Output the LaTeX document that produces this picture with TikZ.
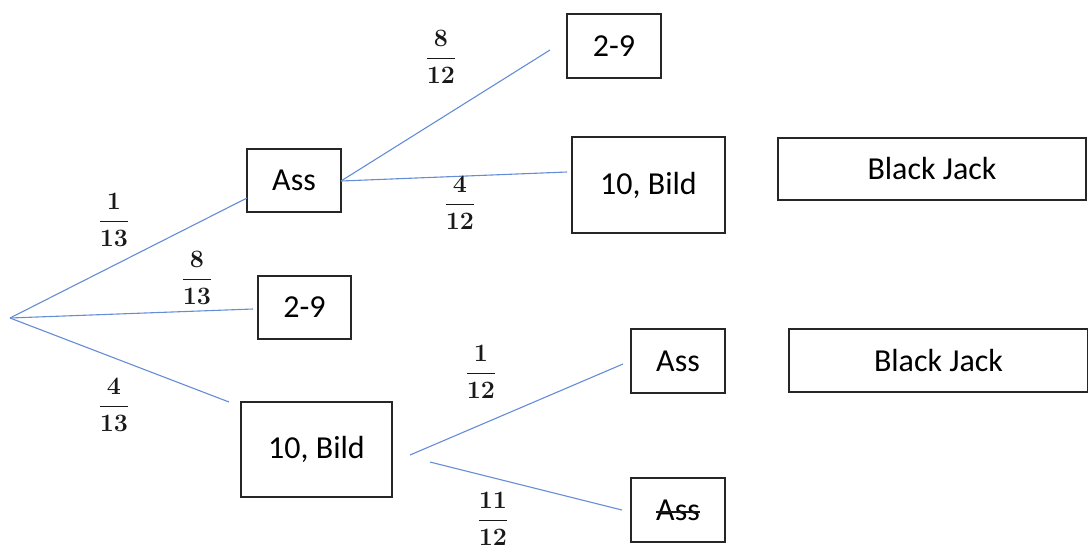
\RequirePackage{fix-cm}
\documentclass[tikz,border=0pt]{standalone}
\usepackage{fontspec}
\setmainfont{Carlito}
\tikzset{
  x=1pt,y=-1pt,
  box/.style={draw=black!85,line width=1.1pt,inner sep=0pt,font=\fontsize{32}{38}\selectfont},
  boxtext/.style={inner sep=0pt,font=\fontsize{32}{38}\selectfont},
  branch/.style={draw={rgb,255:red,100;green,140;blue,215},line width=1.1pt},
  strike/.style={draw=black!90,line width=1.4pt},
  frac/.style={font=\fontsize{25}{30}\selectfont\boldmath,inner sep=0pt,text=black!90}
}
\newcommand{\myfrac}[2]{$\displaystyle\frac{#1}{#2}$}
\begin{document}
\begin{tikzpicture}
\useasboundingbox (0,0) rectangle (1088,552);
% nodes
\node[box,minimum width=94pt,minimum height=63pt] (ass1) at (294,180.5) {Ass};
\node[box,minimum width=94pt,minimum height=64pt] (n29a) at (614,46) {2-9};
\node[box,minimum width=153pt,minimum height=96pt] (bild1) at (648.5,185) {10, Bild};
\node[box,minimum width=308pt,minimum height=62pt] (bj1) at (932,169) {Black Jack};
\node[box,minimum width=93pt,minimum height=63pt] (n29b) at (304.5,307.5) {2-9};
\node[box,minimum width=94pt,minimum height=64pt] (ass2) at (678,361) {Ass};
\node[box,minimum width=299pt,minimum height=63pt] (bj2) at (938.5,360.5) {Black Jack};
\node[box,minimum width=151pt,minimum height=95pt] (bild2) at (316.5,449.5) {10, Bild};
\node[box,minimum width=94pt,minimum height=64pt] (ass3) at (678,510) {};
\node[boxtext] (ass3t) at (ass3.center) {Ass};
\draw[strike] ([yshift=8pt]ass3t.base west) -- ([yshift=8pt]ass3t.base east);
% branch points
\coordinate (root) at (10,318);
\coordinate (a1in) at (247,198);
\coordinate (b2in) at (253,309);
\coordinate (c2in) at (229,402);
\coordinate (a1out) at (341,181);
\coordinate (p29) at (550,50);
\coordinate (pbild) at (567,172);
\coordinate (b2out1) at (410,455);
\coordinate (b2out2) at (430,462);
\coordinate (pass2) at (623,364);
\coordinate (pass3) at (622,510);
% connectors
\draw[branch] (root) -- (a1in);
\draw[branch] (root) -- (b2in);
\draw[branch] (root) -- (c2in);
\draw[branch] (a1out) -- (p29);
\draw[branch] (a1out) -- (pbild);
\draw[branch] (b2out1) -- (pass2);
\draw[branch] (b2out2) -- (pass3);
% labels
\node[frac] (f1) at (114,220) {\myfrac{1}{13}};
\node[frac] (f2) at (197,278) {\myfrac{8}{13}};
\node[frac] (f3) at (114,405) {\myfrac{4}{13}};
\node[frac] (f4) at (441,57) {\myfrac{8}{12}};
\node[frac] (f5) at (460,203) {\myfrac{4}{12}};
\node[frac] (f6) at (481,372) {\myfrac{1}{12}};
\node[frac] (f7) at (493,519) {\myfrac{11}{12}};
\end{tikzpicture}
\end{document}
